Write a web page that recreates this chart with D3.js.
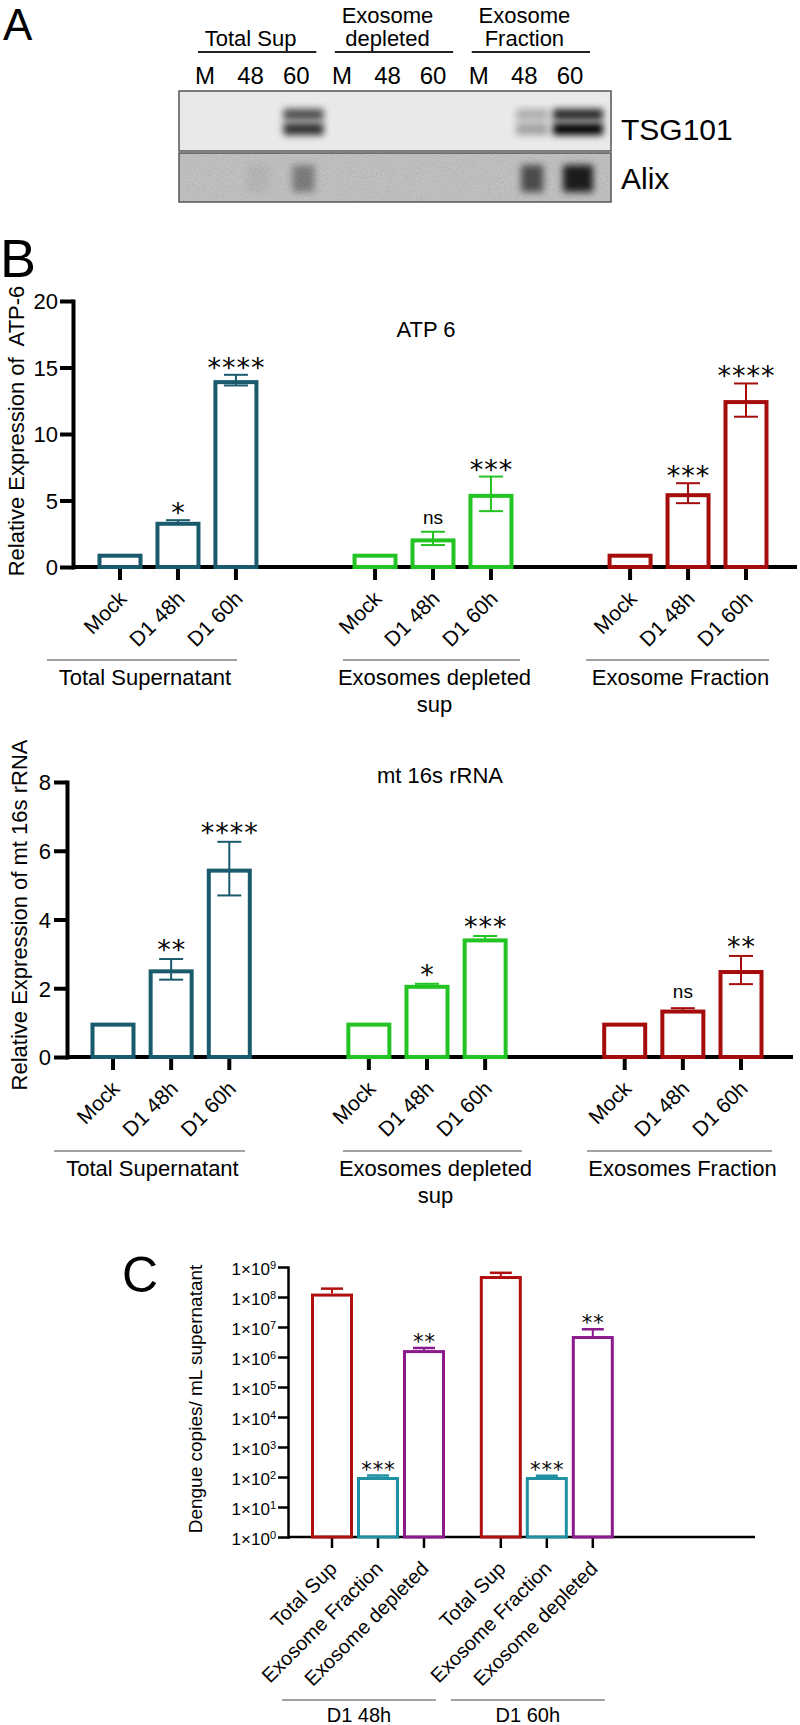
<!DOCTYPE html>
<html><head><meta charset="utf-8">
<script src="https://cdn.jsdelivr.net/npm/d3@7"></script>
<style>
body{margin:0;background:#fff;}
svg{display:block;font-family:"Liberation Sans",Arial,sans-serif;}
</style></head><body>
<svg id="fig" width="800" height="1725"></svg>
<script>
// ---------------- DATA ----------------
// Panel A (western blot)
const blotHeaders = ["Total Sup", "Exosome\ndepleted", "Exosome\nFraction"];
const laneLabels = ["M", "48", "60"];
const blotProteins = ["TSG101", "Alix"];
const tsgBands  = [0, 0, 0.8,  0, 0, 0,  0, 0.3, 1.0];
const alixBands = [0, 0.05, 0.35, 0, 0, 0,  0, 0.6, 0.85];

// Panel B
const conditions = ["Mock", "D1 48h", "D1 60h"];
const groupsB1 = ["Total Supernatant", "Exosomes depleted\nsup", "Exosome Fraction"];
const groupsB2 = ["Total Supernatant", "Exosomes depleted\nsup", "Exosomes Fraction"];
const colorsB = ["#1a5a6d", "#22c322", "#a50c0c"];
const atp6Mean = [[1, 3.4, 14.05], [1, 2.15, 5.5], [1, 5.55, 12.55]];
const atp6Err  = [[0, 0.12, 0.4],  [0, 0.5, 1.3],  [0, 0.75, 1.25]];
const atp6Sig  = [["", "*", "****"], ["", "ns", "***"], ["", "***", "****"]];
const atp6Ticks = [0, 5, 10, 15, 20];
const rrnaMean = [[1, 2.55, 5.48], [1, 2.1, 3.45], [1, 1.38, 2.53]];
const rrnaErr  = [[0, 0.3, 0.78],  [0, 0.03, 0.07], [0, 0.04, 0.41]];
const rrnaSig  = [["", "**", "****"], ["", "*", "***"], ["", "ns", "**"]];
const rrnaTicks = [0, 2, 4, 6, 8];

// Panel C
const timepointsC = ["D1 48h", "D1 60h"];
const fractionsC = ["Total Sup", "Exosome Fraction", "Exosome depleted"];
const colorsC = ["#b00f0f", "#1f8fa2", "#8d1a8d"];
const dengueMean   = [[1.3e8, 100, 1.7e6], [5.0e8, 100, 5.0e6]];
const dengueErrTop = [[1.9e8, 112, 2.0e6], [6.4e8, 110, 8.4e6]];
const dengueSig    = [["", "***", "**"], ["", "***", "**"]];
const dengueExponents = [0, 1, 2, 3, 4, 5, 6, 7, 8, 9];

// ---------------- DRAWING ----------------
const FONT = '"Liberation Sans", Arial, sans-serif';
const STAR = '"DejaVu Sans", sans-serif';
const svg = d3.select("#fig");
svg.append("rect").attr("width", 800).attr("height", 1725).attr("fill", "#fff");
const defs = svg.append("defs");
defs.append("filter").attr("id", "blur").attr("x", "-60%").attr("y", "-60%").attr("width", "220%").attr("height", "220%")
  .append("feGaussianBlur").attr("stdDeviation", 3.5);
const nz = defs.append("filter").attr("id", "noise").attr("x", 0).attr("y", 0).attr("width", 1).attr("height", 1);
nz.append("feTurbulence").attr("type", "fractalNoise").attr("baseFrequency", 0.85).attr("numOctaves", 2).attr("seed", 4);
nz.append("feColorMatrix").attr("type", "matrix")
  .attr("values", "0.33 0.33 0.33 0 0 0.33 0.33 0.33 0 0 0.33 0.33 0.33 0 0 0 0 0 0 1");

// ---- Panel A ----
const laneX = d3.scaleLinear().domain([0, 8]).range([205, 570]);
const bandX = d3.scaleLinear().domain([0, 8]).range([212, 578]);
const gA = svg.append("g").attr("font-family", FONT);
gA.append("text").attr("x", 3).attr("y", 40).attr("font-size", 44).text("A");
blotHeaders.forEach((h, gi) => {
  const lines = h.split("\n");
  const cx = laneX(gi * 3 + 1);
  lines.forEach((ln, k) => gA.append("text").attr("x", cx).attr("y", 46 - (lines.length - 1 - k) * 23)
    .attr("text-anchor", "middle").attr("font-size", 22).text(ln));
  gA.append("line").attr("x1", laneX(gi * 3) - 7).attr("x2", laneX(gi * 3 + 2) + 20)
    .attr("y1", 52).attr("y2", 52).attr("stroke", "#222").attr("stroke-width", 2);
});
d3.range(9).forEach(i => gA.append("text").attr("x", laneX(i)).attr("y", 84).attr("text-anchor", "middle")
  .attr("font-size", 24).text(laneLabels[i % 3]));

const blotX0 = 179, blotX1 = 611;
const rows = [
  {name: blotProteins[0], y0: 91, y1: 151, bg: "#e9e9e9", bands: tsgBands, by0: 108, by1: 137, noise: false, ly: 140},
  {name: blotProteins[1], y0: 153, y1: 202, bg: "#bfbfbf", bands: alixBands, by0: 160, by1: 195, noise: true, ly: 189}
];
rows.forEach((r, ri) => {
  const cid = "clip" + ri;
  defs.append("clipPath").attr("id", cid).append("rect").attr("x", blotX0).attr("y", r.y0)
    .attr("width", blotX1 - blotX0).attr("height", r.y1 - r.y0);
  const gb = gA.append("g").attr("clip-path", `url(#${cid})`);
  gb.append("rect").attr("x", blotX0).attr("y", r.y0).attr("width", blotX1 - blotX0).attr("height", r.y1 - r.y0).attr("fill", r.bg);
  if (r.noise) gb.append("rect").attr("x", blotX0).attr("y", r.y0).attr("width", blotX1 - blotX0).attr("height", r.y1 - r.y0)
    .attr("filter", "url(#noise)").attr("opacity", 0.35);
  r.bands.forEach((v, i) => {
    if (v <= 0) return;
    const cx = bandX(i);
    const w = v > 0.9 ? 50 : (v > 0.7 ? 40 : 32);
    if (ri === 0) {
      gb.append("rect").attr("x", cx - w / 2).attr("y", r.by0 + 1).attr("width", w).attr("height", 11)
        .attr("fill", "#000").attr("opacity", v * 0.85).attr("filter", "url(#blur)");
      gb.append("rect").attr("x", cx - w / 2).attr("y", r.by0 + 15).attr("width", w).attr("height", 12)
        .attr("fill", "#000").attr("opacity", v).attr("filter", "url(#blur)");
    } else {
      gb.append("rect").attr("x", cx - w / 2 + 5).attr("y", r.by0 + 5).attr("width", w - 10).attr("height", r.by1 - r.by0 - 8)
        .attr("fill", "#000").attr("opacity", v).attr("filter", "url(#blur)");
    }
  });
  gA.append("rect").attr("x", blotX0).attr("y", r.y0).attr("width", blotX1 - blotX0).attr("height", r.y1 - r.y0)
    .attr("fill", "none").attr("stroke", "#555").attr("stroke-width", 1.5);
  gA.append("text").attr("x", 621).attr("y", r.ly).attr("font-size", 30).text(r.name);
});

// ---- Panel B ----
svg.append("text").attr("x", 0).attr("y", 277).attr("font-family", FONT).attr("font-size", 54).text("B");

function drawB(o) {
  const g = svg.append("g").attr("font-family", FONT);
  const x = d3.scaleLinear().domain([0, 10.8]).range(o.xRange);
  const y = d3.scaleLinear().domain(o.yDomain).range(o.yRange);
  const y0 = y(0);
  const slot = (gi, i) => gi * 4.4 + i;
  const ya = g.append("g").attr("transform", `translate(${o.axisX},0)`)
    .call(d3.axisLeft(y).tickValues(o.yTicks).tickSize(13).tickSizeOuter(0).tickPadding(o.tickPad));
  ya.attr("font-size", 22).attr("font-family", FONT);
  ya.select(".domain").attr("stroke", "#000").attr("stroke-width", 4).attr("stroke-linecap", "square");
  ya.selectAll(".tick line").attr("stroke", "#000").attr("stroke-width", 4);
  ya.selectAll(".tick text").attr("fill", "#000").attr("dy", "0.36em");
  g.append("line").attr("x1", o.axisX).attr("x2", o.axisEnd).attr("y1", y0).attr("y2", y0)
    .attr("stroke", "#000").attr("stroke-width", 4);

  const data = [];
  o.groups.forEach((gn, gi) => conditions.forEach((c, i) => data.push({
    gi, i, c, v: o.means[gi][i], e: o.errs[gi][i], s: o.sigs[gi][i], col: colorsB[gi]
  })));
  const bw = 45, sw = 4;
  data.forEach(d => {
    const cx = x(slot(d.gi, d.i));
    g.append("line").attr("x1", cx).attr("x2", cx).attr("y1", y0).attr("y2", y0 + 13)
      .attr("stroke", "#000").attr("stroke-width", 4);
    g.append("rect").attr("x", cx - bw / 2 + sw / 2).attr("y", y(d.v) + sw / 2)
      .attr("width", bw - sw).attr("height", y0 - y(d.v) - sw / 2)
      .attr("fill", "none").attr("stroke", d.col).attr("stroke-width", sw);
    if (d.e > 0) {
      const yt = y(d.v + d.e), yb = y(d.v - d.e);
      g.append("line").attr("x1", cx).attr("x2", cx).attr("y1", yt).attr("y2", yb).attr("stroke", d.col).attr("stroke-width", 2);
      [yt, yb].forEach(yy => g.append("line").attr("x1", cx - 12).attr("x2", cx + 12).attr("y1", yy).attr("y2", yy)
        .attr("stroke", d.col).attr("stroke-width", 2));
    }
    if (d.s) {
      const top = y(d.v + d.e) - o.sigGap;
      if (d.s === "ns") {
        g.append("text").attr("x", cx).attr("y", top + 5).attr("text-anchor", "middle").attr("font-size", 19).text("ns");
      } else {
        g.append("text").attr("x", cx + 0.5).attr("y", top + 15).attr("text-anchor", "middle")
          .attr("font-family", STAR).attr("font-size", 27).attr("letter-spacing", 1).text(d.s);
      }
    }
    g.append("text").attr("transform", `translate(${cx + 8},${y0 + 33}) rotate(-45)`)
      .attr("text-anchor", "end").attr("font-size", 21).text(d.c);
  });
  o.groups.forEach((gn, gi) => {
    const [a, b] = o.groupLines[gi];
    g.append("line").attr("x1", a).attr("x2", b).attr("y1", o.groupLineY).attr("y2", o.groupLineY)
      .attr("stroke", "#444").attr("stroke-width", 1);
    gn.split("\n").forEach((ln, k) => g.append("text").attr("x", (a + b) / 2 + 3).attr("y", o.groupLineY + 25 + k * 27)
      .attr("text-anchor", "middle").attr("font-size", 22).text(ln));
  });
  g.append("text").attr("x", o.titleX).attr("y", o.titleY).attr("text-anchor", "middle").attr("font-size", 22).text(o.title);
  g.append("text").attr("transform", `translate(${o.ylabelX},${o.ylabelY}) rotate(-90)`)
    .attr("text-anchor", "middle").attr("font-size", 22).style("white-space", "pre").text(o.ylabel);
}

drawB({
  means: atp6Mean, errs: atp6Err, sigs: atp6Sig, groups: groupsB1,
  xRange: [120, 746], yDomain: [0, 20], yRange: [567, 301], yTicks: atp6Ticks,
  axisX: 73, axisEnd: 797, tickPad: 2, sigGap: 13,
  groupLines: [[47, 237], [343, 520], [586, 769]], groupLineY: 660,
  title: "ATP 6", titleX: 426, titleY: 337,
  ylabel: "Relative Expression of  ATP-6", ylabelX: 24, ylabelY: 431
});
drawB({
  means: rrnaMean, errs: rrnaErr, sigs: rrnaSig, groups: groupsB2,
  xRange: [113, 741], yDomain: [0, 8], yRange: [1057, 782], yTicks: rrnaTicks,
  axisX: 67, axisEnd: 793, tickPad: 3, sigGap: 15,
  groupLines: [[54, 245], [343, 522], [587, 772]], groupLineY: 1151,
  title: "mt 16s rRNA", titleX: 440, titleY: 783,
  ylabel: "Relative Expression of mt 16s rRNA", ylabelX: 27, ylabelY: 915
});

// ---- Panel C ----
(function () {
  const g = svg.append("g").attr("font-family", FONT);
  g.append("text").attr("x", 122).attr("y", 1292).attr("font-size", 50).text("C");
  const x = d3.scaleLinear().domain([0, 5.67]).range([332, 592.8]);
  const y = d3.scaleLog().domain([1, 1e9]).range([1537, 1267]);
  const y0 = y(1);
  const axisX = 288;
  const ya = g.append("g").attr("transform", `translate(${axisX},0)`)
    .call(d3.axisLeft(y).tickValues(dengueExponents.map(k => Math.pow(10, k))).tickSize(10).tickSizeOuter(0).tickFormat(""));
  ya.select(".domain").attr("stroke", "#000").attr("stroke-width", 2.5).attr("stroke-linecap", "square");
  ya.selectAll(".tick line").attr("stroke", "#000").attr("stroke-width", 2.5);
  dengueExponents.forEach(k => {
    const t = g.append("text").attr("x", 276).attr("y", y(Math.pow(10, k)) + 8).attr("text-anchor", "end").attr("font-size", 17);
    t.append("tspan").text("1×10");
    t.append("tspan").attr("dy", -6).attr("font-size", 11).text(String(k));
  });
  g.append("line").attr("x1", axisX).attr("x2", 755).attr("y1", y0).attr("y2", y0).attr("stroke", "#000").attr("stroke-width", 2.5);
  const bw = 42, sw = 3;
  timepointsC.forEach((tp, ti) => {
    fractionsC.forEach((fr, i) => {
      const s = ti * 3.67 + i;
      const cx = x(s);
      const v = dengueMean[ti][i], et = dengueErrTop[ti][i], col = colorsC[i];
      g.append("line").attr("x1", cx).attr("x2", cx).attr("y1", y0).attr("y2", y0 + 11).attr("stroke", "#000").attr("stroke-width", 2.5);
      g.append("line").attr("x1", cx).attr("x2", cx).attr("y1", y(et)).attr("y2", y(v)).attr("stroke", col).attr("stroke-width", 2);
      g.append("line").attr("x1", cx - 11).attr("x2", cx + 11).attr("y1", y(et)).attr("y2", y(et)).attr("stroke", col).attr("stroke-width", 2.5);
      g.append("rect").attr("x", cx - bw / 2 + sw / 2).attr("y", y(v) + sw / 2).attr("width", bw - sw)
        .attr("height", y0 - y(v) - sw / 2).attr("fill", "none").attr("stroke", col).attr("stroke-width", sw);
      const sig = dengueSig[ti][i];
      if (sig) g.append("text").attr("x", cx + 0.5).attr("y", y(et) - 10 + 11).attr("text-anchor", "middle")
        .attr("font-family", STAR).attr("font-size", 21).attr("letter-spacing", 1).text(sig);
      g.append("text").attr("transform", `translate(${cx + 6},${y0 + 33}) rotate(-45)`)
        .attr("text-anchor", "end").attr("font-size", 20).text(fr);
    });
    const a = x(ti * 3.67) - 50, b = x(ti * 3.67 + 2) + 12;
    g.append("line").attr("x1", a).attr("x2", b).attr("y1", 1700).attr("y2", 1700).attr("stroke", "#444").attr("stroke-width", 1);
    g.append("text").attr("x", (a + b) / 2).attr("y", 1722).attr("text-anchor", "middle").attr("font-size", 20).text(tp);
  });
  g.append("text").attr("transform", "translate(202,1399) rotate(-90)").attr("text-anchor", "middle")
    .attr("font-size", 19).text("Dengue copies/ mL supernatant");
})();
</script></body></html>
